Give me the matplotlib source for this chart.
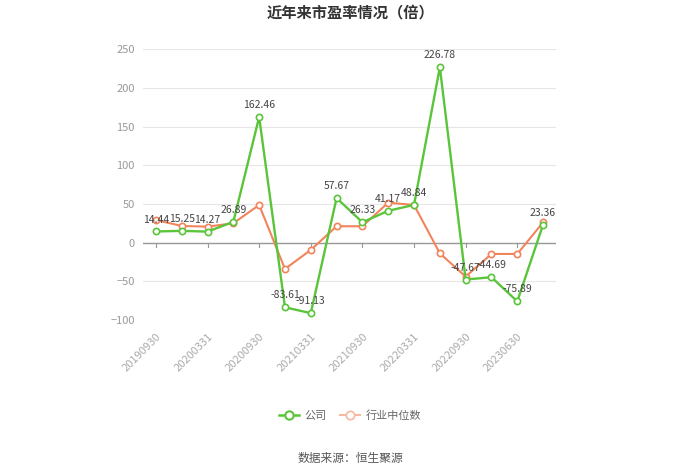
import matplotlib
matplotlib.use("Agg")
import matplotlib.pyplot as plt
from matplotlib.lines import Line2D

plt.rcParams['font.family'] = ['Noto Sans CJK SC', 'DejaVu Sans']

# data
dates = ['20190930', '20191231', '20200331', '20200630', '20200930', '20201231',
         '20210331', '20210630', '20210930', '20211231', '20220331', '20220630',
         '20220930', '20230331', '20230630', '20230930']
company = [14.44, 15.25, 14.27, 26.89, 162.46, -83.61, -91.13, 57.67,
           26.33, 41.17, 48.84, 226.78, -47.67, -44.69, -75.89, 23.36]
industry = [29.3, 21.6, 20.7, 25.1, 48.7, -34.0, -9.4, 21.2,
            21.2, 51.7, 48.7, -13.8, -43.9, -14.6, -14.6, 26.3]
tick_idx = [0, 2, 4, 6, 8, 10, 12, 14]
tick_labels = ['20190930', '20200331', '20200930', '20210331',
               '20210930', '20220331', '20220930', '20230630']

green = '#5ac53a'
orange = '#f2845c'

fig = plt.figure(figsize=(7, 4.73), dpi=100)
ax = fig.add_axes([143/700, 1-320/473, (556-143)/700, (320-49.3)/473])

x = list(range(len(dates)))
ax.plot(x, industry, color=orange, lw=1.5, marker='o', ms=4.5,
        mfc='white', mec=orange, mew=1.2, zorder=3)
ax.plot(x, company, color=green, lw=1.7, marker='o', ms=4.5,
        mfc='white', mec=green, mew=1.2, zorder=4)

for i, v in enumerate(company):
    ax.annotate(f'{v:.2f}', (i, v), xytext=(0, 5), textcoords='offset points',
                ha='center', va='bottom', fontsize=7.5, color='#444444', zorder=5)

ax.set_xlim(-0.5, len(dates) - 0.5)
ax.set_ylim(-100, 250)
ax.set_yticks([-100, -50, 0, 50, 100, 150, 200, 250])
ax.set_xticks(tick_idx)
ax.set_xticklabels(tick_labels, rotation=45, ha='right', va='top',
                   rotation_mode='anchor', fontsize=8, color='#aaaaaa')
ax.tick_params(axis='y', length=0, labelsize=8, labelcolor='#999999', pad=6)
ax.tick_params(axis='x', length=4, color='#888888', pad=4)
ax.xaxis.set_ticks_position('none')

ax.grid(axis='y', color='#e6e6e6', lw=0.8)
ax.set_axisbelow(True)
for s in ax.spines.values():
    s.set_visible(False)
ax.axhline(0, color='#999999', lw=1, zorder=2)
for t in tick_idx:
    ax.plot([t, t], [0, -5], color='#999999', lw=0.8, zorder=2, clip_on=False)

fig.text(0.5, 1-12/473, '近年来市盈率情况（倍）', ha='center', va='center',
         fontsize=11, fontweight='bold', color='#333333')

handles = [Line2D([], [], color=green, lw=1.8, marker='o', ms=6, mfc='white', mec=green, mew=1.5),
           Line2D([], [], color='#f5b8a0', lw=1.5, marker='o', ms=6, mfc='white', mec='#f5b8a0', mew=1.2)]
leg = fig.legend(handles, ['公司', '行业中位数'], loc='center', bbox_to_anchor=(0.5, 1-416/473),
                 ncol=2, frameon=False, fontsize=8, handlelength=1.8, columnspacing=1.2,
                 handletextpad=0.5)
for t in leg.get_texts():
    t.set_color('#666666')

fig.text(0.5, 1-458/473, '数据来源：恒生聚源', ha='center', va='center',
         fontsize=8.5, color='#555555')

fig.savefig('out.png', dpi=100, facecolor='white')
